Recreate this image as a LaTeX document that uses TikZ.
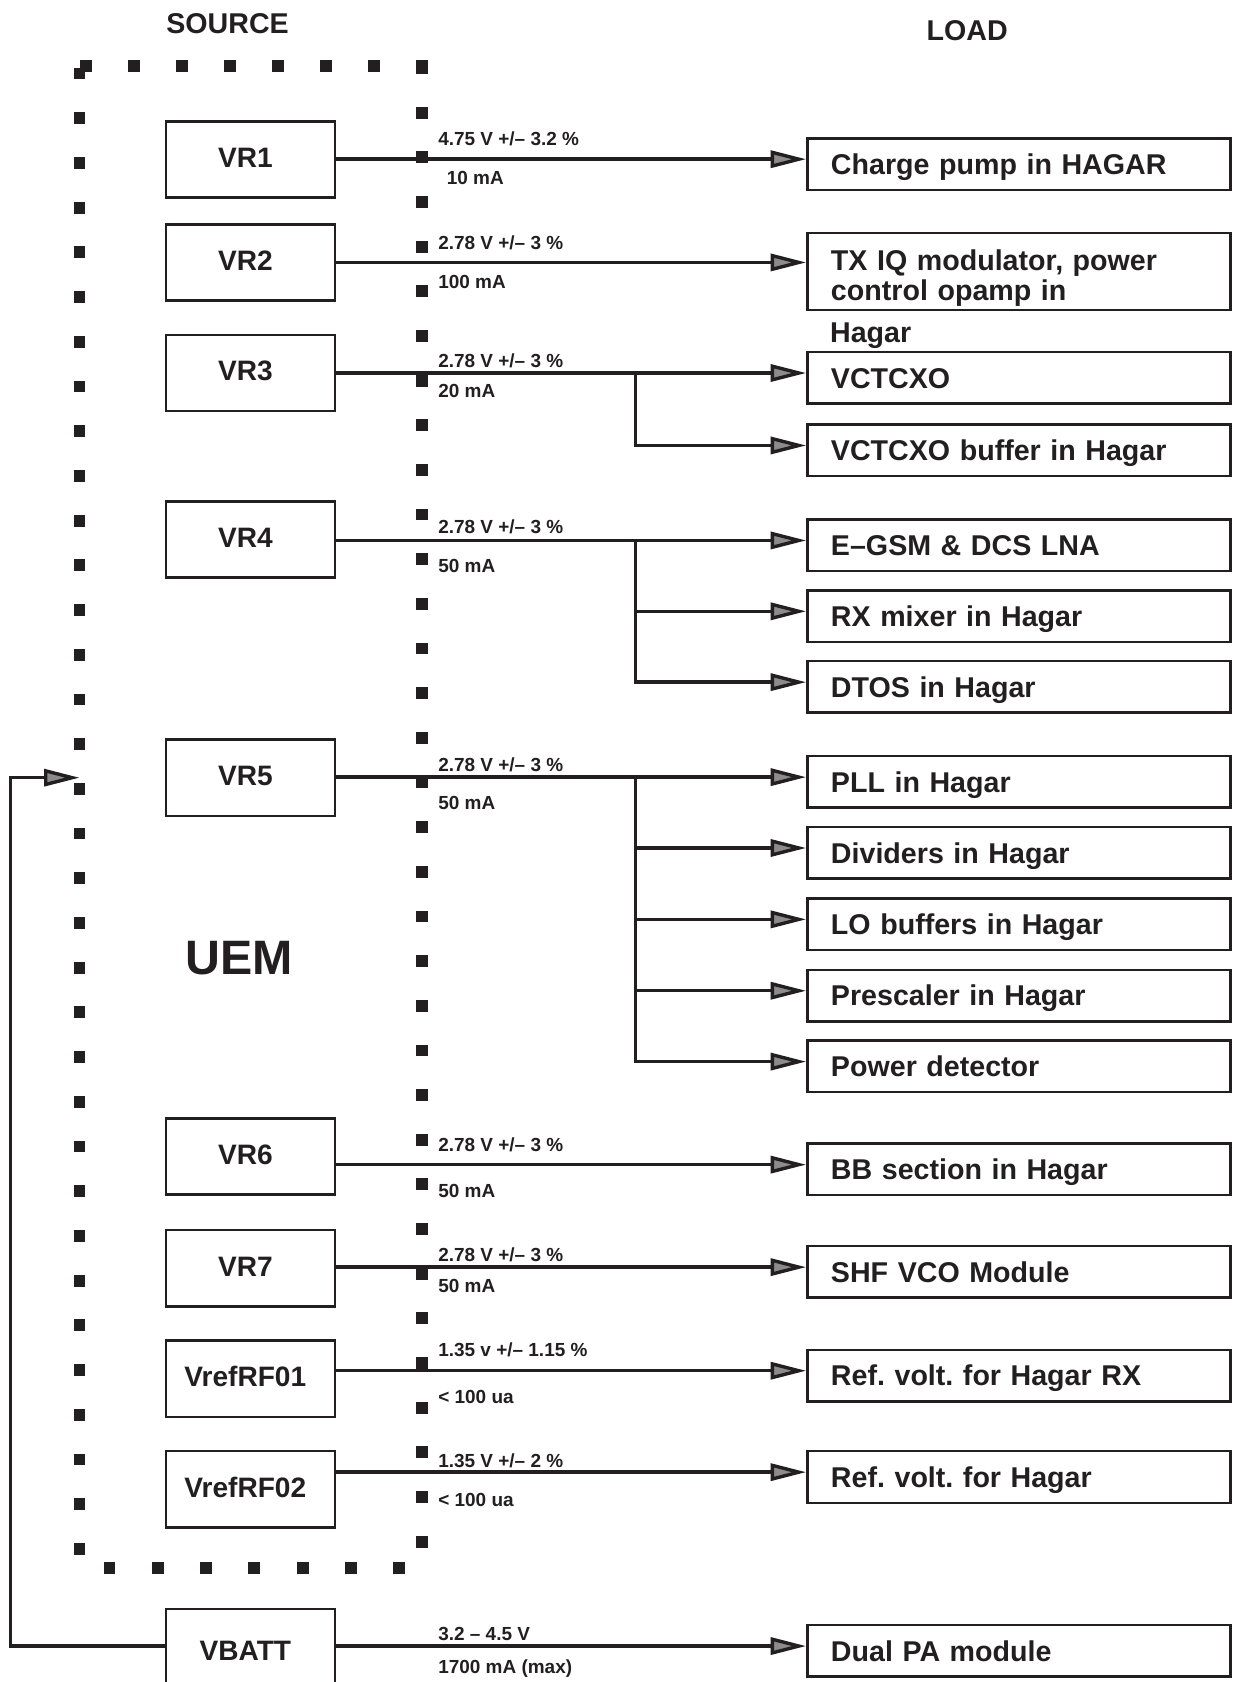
\documentclass[tikz,border=0pt]{standalone}
\usepackage{fontspec}
\setmainfont{Liberation Sans}
\usepackage{tikz}
\usetikzlibrary{arrows.meta}
\usetikzlibrary{positioning}
\definecolor{ink}{RGB}{35,31,32}
\definecolor{tipgray}{RGB}{140,140,140}
\frenchspacing

\begin{document}
\begin{tikzpicture}
    [
    x=0.6pt, y=-0.6pt,
    every node/.style={text=ink},
    title/.style={font=\bfseries\fontsize{16}{19}\selectfont, inner sep=0pt, text height=11.5pt, text depth=0pt},
    big/.style={font=\bfseries\fontsize{27}{32}\selectfont, inner sep=0pt, text height=19.3pt, text depth=0pt},
    src/.style={draw=ink, line width=1.4pt, minimum width=94.4pt, minimum height=42.6pt, text height=11.3pt, text depth=2.5pt, execute at end node={\kern5.8pt}, font=\bfseries\fontsize{15.7}{18}\selectfont},
    loadbase/.style={draw=ink, line width=1.4pt, anchor=west, minimum width=236.4pt, text width=210pt, align=left, inner xsep=13.2pt, inner ysep=2pt, font=\bfseries\fontsize{16}{16.5}\selectfont},
    load/.style={loadbase, minimum height=28.8pt, text height=12pt, text depth=0.5pt},
    loadtext/.style={font=\bfseries\fontsize{16}{16.5}\selectfont, inner sep=0pt, text height=11.5pt, text depth=0pt},
    volt/.style={anchor=west, inner sep=0pt, text height=7.6pt, text depth=0pt, font=\bfseries\fontsize{10.6}{12}\selectfont},
    feed/.style={draw=ink, line width=1.9pt, -{Triangle[length=19.8pt, width=9.5pt, fill=tipgray]}},
    sq/.style={fill=ink},
    ]
    \useasboundingbox (0,0) rectangle (1147.8,1567);

    \node (source) [title] at (212,21.7) {SOURCE};
    \node (loadhd) [title] at (901,28.6) {LOAD};
    \node (uem) [big] at (222.7,891.4) {UEM};

    % UEM border
    \foreach \k in {0,...,33} {
      \fill[sq] (74,{68.5+41.65*\k}) +(-5.5,-5.5) rectangle +(5.5,5.5);
      \fill[sq] (393,{63.4+41.6*\k}) +(-5.5,-5.5) rectangle +(5.5,5.5);
    }
    \foreach \k in {0,...,7}
      \fill[sq] ({80+44.7*\k},61.5) +(-5.5,-5.5) rectangle +(5.5,5.5);
    \foreach \k in {0,...,6}
      \fill[sq] ({102+45*\k},1461) +(-5.5,-5.5) rectangle +(5.5,5.5);

    % regulators
    \node (vr1) [src] at (233.4,148.5) {VR1};
    \node (vr2) [src] at (233.4,244.5) {VR2};
    \node (vr3) [src] at (233.4,347.5) {VR3};
    \node (vr4) [src] at (233.4,502.5) {VR4};
    \node (vr5) [src] at (233.4,724.5) {VR5};
    \node (vr6) [src] at (233.4,1077.5) {VR6};
    \node (vr7) [src] at (233.4,1181.5) {VR7};
    \node (rf1) [src] at (233.4,1284.5) {VrefRF01};
    \node (rf2) [src] at (233.4,1387.5) {VrefRF02};
    \node (vbatt) [src, minimum height=49.2pt] at (233.4,1540) {VBATT};

    % loads
    \node (chg) [load] at (751,152.8) {Charge pump in HAGAR};
    \node (txiq) [loadbase, minimum height=43.2pt] at (751,253) {\rule{0pt}{18.9pt}TX IQ modulator, power\\control opamp in};
    \node (txiqc) [loadtext, below right=5.4pt and 13.2pt of txiq.south west] {Hagar};
    \node (vcx) [load] at (751,352) {VCTCXO};
    \node (vcxbuf) [load] at (751,419.5) {VCTCXO buffer in Hagar};
    \node (egsm) [load] at (751,508) {E–GSM \& DCS LNA};
    \node (rxmix) [load] at (751,574) {RX mixer in Hagar};
    \node (dtos) [load] at (751,640) {DTOS in Hagar};
    \node (pll) [load] at (751,728.5) {PLL in Hagar};
    \node (divs) [load] at (751,794.5) {Dividers in Hagar};
    \node (lobuf) [load] at (751,861) {LO buffers in Hagar};
    \node (presc) [load] at (751,927.5) {Prescaler in Hagar};
    \node (pdet) [load] at (751,993.5) {Power detector};
    \node (bbsec) [load] at (751,1089.5) {BB section in Hagar};
    \node (shf) [load] at (751,1185) {SHF VCO Module};
    \node (refrx) [load] at (751,1281.5) {Ref. volt. for Hagar RX};
    \node (refhg) [load] at (751,1376) {Ref. volt. for Hagar};
    \node (dualpa) [load] at (751,1538) {Dual PA module};

    % supply values
    \node (v1) [volt] at (408,129) {4.75 V +/– 3.2 \%};
    \node (i1) [volt] at (416,166) {10 mA};
    \node (v2) [volt] at (408,226) {2.78 V +/– 3 \%};
    \node (i2) [volt] at (408,262) {100 mA};
    \node (v3) [volt] at (408,336) {2.78 V +/– 3 \%};
    \node (i3) [volt] at (408,364) {20 mA};
    \node (v4) [volt] at (408,491) {2.78 V +/– 3 \%};
    \node (i4) [volt] at (408,527) {50 mA};
    \node (v5) [volt] at (408,712) {2.78 V +/– 3 \%};
    \node (i5) [volt] at (408,748) {50 mA};
    \node (v6) [volt] at (408,1066) {2.78 V +/– 3 \%};
    \node (i6) [volt] at (408,1109) {50 mA};
    \node (v7) [volt] at (408,1169) {2.78 V +/– 3 \%};
    \node (i7) [volt] at (408,1198) {50 mA};
    \node (v8) [volt] at (408,1257) {1.35 v +/– 1.15 \%};
    \node (i8) [volt] at (408,1301) {< 100 ua};
    \node (v9) [volt] at (408,1361) {1.35 V +/– 2 \%};
    \node (i9) [volt] at (408,1397) {< 100 ua};
    \node (v10) [volt] at (408,1522) {3.2 – 4.5 V};
    \node (i10) [volt] at (408,1553) {1700 mA (max)};

    % supply lines
    \foreach \src/\dst in {vr1/chg,vr3/vcx,vr4/egsm,vr5/pll,vr6/bbsec,vr7/shf,rf1/refrx,rf2/refhg,vbatt/dualpa}
      \draw[feed] ([yshift=2.7pt]\dst.west -| \src.east) -- ([yshift=2.7pt]\dst.west);
    \draw[feed] (vr2.east) -- (vr2.east -| txiq.west);

    \coordinate (tap) at (592,0);
    \draw[feed] ([yshift=2.7pt]vcx.west -| tap) |- ([yshift=2.7pt]vcxbuf.west);
    \foreach \dst in {rxmix,dtos}
      \draw[feed] ([yshift=2.7pt]egsm.west -| tap) |- ([yshift=2.7pt]\dst.west);
    \foreach \dst in {divs,lobuf,presc,pdet}
      \draw[feed] ([yshift=2.7pt]pll.west -| tap) |- ([yshift=2.7pt]\dst.west);

    % battery back to UEM
    \coordinate (uemin) at (74,0);
    \draw[feed] ([yshift=2.7pt]dualpa.west -| vbatt.west) -- ++(-144,0) |- (uemin |- vr5.west);
\end{tikzpicture}
\end{document}
